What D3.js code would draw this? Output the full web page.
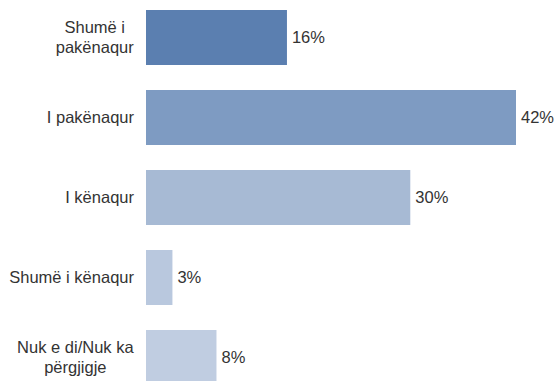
<!DOCTYPE html>
<html>
<head>
<meta charset="utf-8">
<script src="https://cdn.jsdelivr.net/npm/d3@7"></script>
<style>
  html, body { margin: 0; padding: 0; background: #fff; }
  svg { display: block; }
  text { font-family: "Liberation Sans", Arial, sans-serif; fill: #333; }
</style>
</head>
<body>
<svg id="chart" width="554" height="381"></svg>
<script>
// Satisfaction answers, one bar per answer
const categories = [
  ["Shumë i", "pakënaqur"],
  ["I pakënaqur"],
  ["I kënaqur"],
  ["Shumë i kënaqur"],
  ["Nuk e di/Nuk ka", "përgjigje"]
];
const values = [16, 42, 30, 3, 8];
const barColors = ["#5b7fb0", "#7e9bc2", "#a7bad4", "#b9c8de", "#c0cde1"];

const keys = categories.map((c, i) => i);
const fontSize = 16.5;

const svg = d3.select("#chart");

const y = d3.scaleBand()
  .domain(keys)
  .range([-2.5, 397.5])
  .paddingInner(0.3125)
  .paddingOuter(0.15625);

const x = d3.scaleLinear()
  .domain([0, 42])
  .range([146, 516]);

// bars
svg.append("g").selectAll("rect")
  .data(keys)
  .join("rect")
  .attr("x", x(0))
  .attr("y", d => y(d))
  .attr("width", d => x(values[d]) - x(0))
  .attr("height", y.bandwidth())
  .attr("fill", d => barColors[d]);

// value labels
svg.append("g").selectAll("text")
  .data(keys)
  .join("text")
  .attr("x", d => x(values[d]) + 5)
  .attr("y", d => y(d) + y.bandwidth() / 2)
  .attr("dy", "0.35em")
  .attr("font-size", fontSize)
  .text(d => values[d] + "%");

// category labels (wrapped where needed)
const lineH = 20;
const labelRight = 134;
const lbl = svg.append("g").selectAll("text")
  .data(keys)
  .join("text")
  .attr("font-size", fontSize);

lbl.each(function(d) {
  const lines = categories[d];
  const t = d3.select(this);
  const cy = y(d) + y.bandwidth() / 2;
  const single = lines.length === 1;
  t.attr("text-anchor", single ? "end" : "middle");
  lines.forEach((ln, i) => {
    t.append("tspan")
      .attr("x", single ? labelRight : 0)
      .attr("y", cy + (i - (lines.length - 1) / 2) * lineH)
      .attr("dy", "0.35em")
      .text(ln);
  });
});

// centre wrapped labels so their widest line ends at the same right edge
lbl.filter(d => categories[d].length > 1).each(function() {
  const w = this.getBBox().width;
  d3.select(this).selectAll("tspan").attr("x", labelRight - w / 2);
});
</script>
</body>
</html>
